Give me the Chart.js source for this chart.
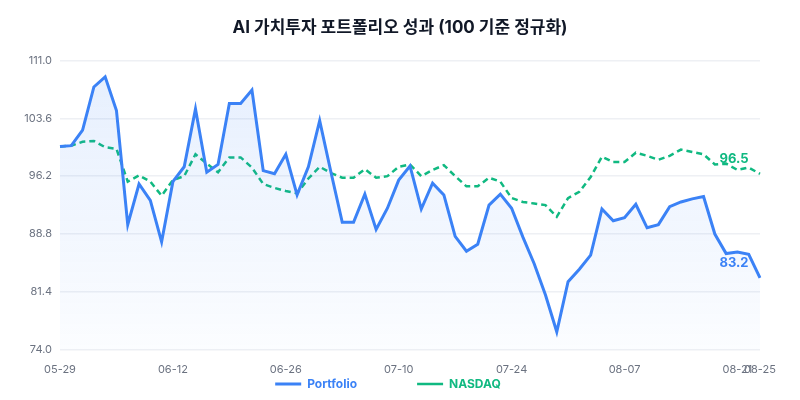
<!DOCTYPE html>
<html>
<head>
<meta charset="utf-8">
<script src="https://cdn.jsdelivr.net/npm/chart.js@4"></script>
<style>
  html, body { margin: 0; padding: 0; background: #fff; }
  #wrap { width: 800px; height: 400px; }
</style>
</head>
<body>
<div id="wrap"><canvas id="perfChart"></canvas></div>
<script>
// trading days (weekdays) from 05-29 to 08-25
const dates = [
  '05-29', '05-30', '06-02', '06-03', '06-04', '06-05', '06-06', '06-09', '06-10', '06-11',
  '06-12', '06-13', '06-16', '06-17', '06-18', '06-19', '06-20', '06-23', '06-24', '06-25',
  '06-26', '06-27', '06-30', '07-01', '07-02', '07-03', '07-04', '07-07', '07-08', '07-09',
  '07-10', '07-11', '07-14', '07-15', '07-16', '07-17', '07-18', '07-21', '07-22', '07-23',
  '07-24', '07-25', '07-28', '07-29', '07-30', '07-31', '08-01', '08-04', '08-05', '08-06',
  '08-07', '08-08', '08-11', '08-12', '08-13', '08-14', '08-15', '08-18', '08-19', '08-20',
  '08-21', '08-22', '08-25'
];

const portfolio = [
  100.0, 100.1, 102.1, 107.6, 108.9, 104.6, 90.0, 95.2, 93.1, 87.8,
  95.5, 97.4, 104.8, 96.7, 97.7, 105.5, 105.5, 107.2, 96.9, 96.5,
  99.0, 93.8, 97.4, 103.3, 96.7, 90.3, 90.3, 93.9, 89.4, 92.1,
  95.7, 97.5, 92.0, 95.3, 93.8, 88.5, 86.6, 87.5, 92.5, 93.9,
  92.1, 88.4, 85.0, 81.0, 76.3, 82.7, 84.3, 86.1, 92.0, 90.5,
  90.9, 92.6, 89.6, 90.0, 92.3, 92.9, 93.3, 93.6, 88.8, 86.3,
  86.5, 86.2, 83.2
];

const nasdaq = [
  100.0, 100.1, 100.6, 100.7, 99.9, 99.7, 95.5, 96.3, 95.5, 93.7,
  95.7, 96.2, 99.0, 97.8, 96.7, 98.6, 98.6, 97.3, 95.2, 94.7,
  94.3, 94.0, 95.9, 97.4, 96.6, 96.0, 96.0, 97.1, 96.0, 96.2,
  97.4, 97.7, 96.2, 97.0, 97.6, 96.2, 94.9, 94.9, 96.0, 95.5,
  93.4, 92.9, 92.7, 92.5, 91.0, 93.4, 94.2, 96.1, 98.7, 98.0,
  98.0, 99.2, 98.8, 98.3, 98.8, 99.6, 99.3, 99.0, 97.7, 97.8,
  97.0, 97.3, 96.5
];

const yMin = 74.0;
const yMax = 111.0;
const yStep = 7.4;

const blue = '#3b82f6';
const green = '#10b981';
const fontStack = "Inter, 'Noto Sans CJK KR', sans-serif";

// light blue gradient under the portfolio line
function portfolioFill(context) {
  const area = context.chart.chartArea;
  if (!area) return 'rgba(59, 130, 246, 0.08)';
  const g = context.chart.ctx.createLinearGradient(0, area.top, 0, area.bottom);
  g.addColorStop(0, 'rgba(59, 130, 246, 0.13)');
  g.addColorStop(1, 'rgba(59, 130, 246, 0.02)');
  return g;
}

// last value written next to the end of each line
const endLabels = {
  id: 'endLabels',
  afterDatasetsDraw(chart) {
    const ctx = chart.ctx;
    ctx.save();
    ctx.font = "bold 13px " + fontStack;
    ctx.textAlign = 'center';
    ctx.textBaseline = 'middle';
    chart.data.datasets.forEach((ds, i) => {
      const meta = chart.getDatasetMeta(i);
      const last = meta.data[meta.data.length - 1];
      if (!last) return;
      ctx.fillStyle = ds.borderColor;
      ctx.fillText(ds.data[ds.data.length - 1].toFixed(1), last.x - 26, last.y - 15);
    });
    ctx.restore();
  }
};

const ctx = document.getElementById('perfChart');

new Chart(ctx, {
  type: 'line',
  data: {
    labels: dates,
    datasets: [
      {
        label: 'Portfolio',
        data: portfolio,
        borderColor: blue,
        backgroundColor: portfolioFill,
        borderWidth: 3,
        fill: 'start',
        pointRadius: 0,
        tension: 0
      },
      {
        label: 'NASDAQ',
        data: nasdaq,
        borderColor: green,
        backgroundColor: 'rgba(0,0,0,0)',
        borderWidth: 2.5,
        borderDash: [6, 4],
        fill: false,
        pointRadius: 0,
        tension: 0
      }
    ]
  },
  options: {
    responsive: true,
    maintainAspectRatio: false,
    animation: false,
    layout: { padding: { left: 10, right: 10, top: 8, bottom: 0 } },
    plugins: {
      title: {
        display: true,
        text: 'AI 가치투자 포트폴리오 성과 (100 기준 정규화)',
        color: '#111827',
        font: { family: fontStack, size: 17, weight: 'bold' },
        padding: { top: 10, bottom: 22 }
      },
      legend: {
        position: 'bottom',
        labels: {
          boxWidth: 26,
          boxHeight: 0,
          padding: 0,
          font: { family: fontStack, size: 12, weight: 'bold' },
          generateLabels(chart) {
            const items = Chart.defaults.plugins.legend.labels.generateLabels(chart);
            items.forEach(it => {
              const ds = chart.data.datasets[it.datasetIndex];
              it.fontColor = ds.borderColor;
              it.fillStyle = 'rgba(0,0,0,0)';
              // spacing between the entries
              it.text = ds.label + (it.datasetIndex === 0 ? '\u2003\u2003\u2003\u2003\u2003' : '\u2003\u2003');
            });
            return items;
          }
        }
      },
      tooltip: { enabled: false }
    },
    scales: {
      x: {
        grid: { display: false, drawTicks: true, tickLength: 11 },
        border: { display: false },
        ticks: {
          autoSkip: false,
          maxRotation: 0,
          padding: 2,
          color: '#6b7280',
          font: { family: fontStack, size: 11 },
          callback(value, index) {
            return (index % 10 === 0 || index === dates.length - 1) ? dates[index] : '';
          }
        }
      },
      y: {
        min: yMin,
        max: yMax,
        border: { display: false },
        grid: { color: '#eef0f4', lineWidth: 1.5, drawTicks: false },
        afterFit(scale) { scale.width = 50; },
        ticks: {
          stepSize: yStep,
          color: '#6b7280',
          font: { family: fontStack, size: 11 },
          padding: 8,
          callback: v => v.toFixed(1)
        }
      },
      // empty spacer on the right so the plot ends at the same place as the reference
      yRight: {
        position: 'right',
        min: yMin,
        max: yMax,
        grid: { display: false, drawTicks: false },
        border: { display: false },
        ticks: { display: false },
        afterFit(scale) { scale.width = 30; }
      }
    }
  },
  plugins: [endLabels]
});
</script>
</body>
</html>
